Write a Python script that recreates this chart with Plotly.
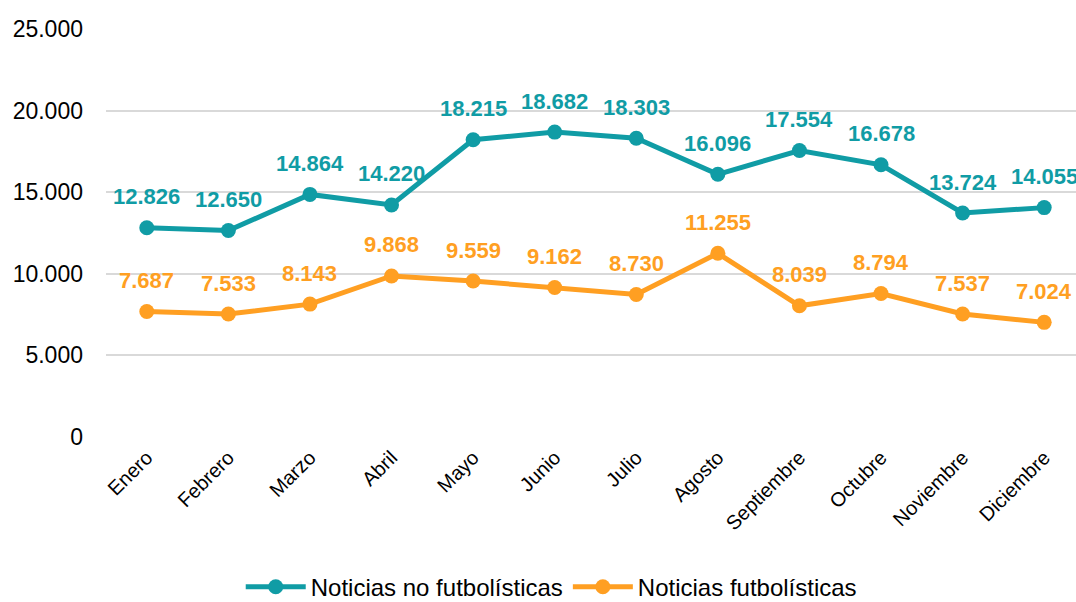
import plotly.graph_objects as go

months = ["Enero", "Febrero", "Marzo", "Abril", "Mayo", "Junio", "Julio",
          "Agosto", "Septiembre", "Octubre", "Noviembre", "Diciembre"]
no_futbol = [12826, 12650, 14864, 14220, 18215, 18682, 18303, 16096, 17554, 16678, 13724, 14055]
futbol = [7687, 7533, 8143, 9868, 9559, 9162, 8730, 11255, 8039, 8794, 7537, 7024]
y_ticks = [0, 5000, 10000, 15000, 20000, 25000]
y_tick_labels = ["0", "5.000", "10.000", "15.000", "20.000", "25.000"]

TEAL = "#109CA5"
ORANGE = "#FF9F22"
FONT = "Liberation Sans, Arial, sans-serif"

def fmt(v):
    return f"{v:,}".replace(",", ".")

fig = go.Figure()
x_idx = list(range(len(months)))
fig.add_trace(go.Scatter(x=x_idx, y=no_futbol, mode="lines+markers",
                         name="Noticias no futbolísticas",
                         line=dict(color=TEAL, width=5),
                         marker=dict(color=TEAL, size=15), cliponaxis=False))
fig.add_trace(go.Scatter(x=x_idx, y=futbol, mode="lines+markers",
                         name="Noticias futbolísticas",
                         line=dict(color=ORANGE, width=5),
                         marker=dict(color=ORANGE, size=15), cliponaxis=False))

annotations = []
for series, color in ((no_futbol, TEAL), (futbol, ORANGE)):
    for i, v in enumerate(series):
        annotations.append(dict(x=i, y=v, text=fmt(v), showarrow=False, yshift=31,
                                font=dict(family=FONT, size=22, color=color, weight="bold")))

fig.update_layout(
    width=1076, height=602,
    margin=dict(l=106, r=0, t=29, b=165, autoexpand=False),
    paper_bgcolor="white", plot_bgcolor="white",
    font=dict(family=FONT, color="#000000"),
    showlegend=True,
    legend=dict(orientation="h", x=0.459, xanchor="center", y=-0.368, yanchor="middle",
                font=dict(family=FONT, size=24, color="#000000"),
                itemwidth=60, tracegroupgap=0),
    annotations=annotations,
    xaxis=dict(tickmode="array", tickvals=x_idx, ticktext=months,
               range=[-0.5, 11.39], showgrid=False, zeroline=False,
               showline=False, ticks="", tickangle=-45, automargin=False,
               ticklabelstandoff=4,
               tickfont=dict(family=FONT, size=20, color="#000000")),
    yaxis=dict(range=[0, 25000], tickmode="array", tickvals=y_ticks,
               ticktext=y_tick_labels, showgrid=True, gridcolor="#D9D9D9",
               gridwidth=1.5, zeroline=False, showline=False, ticks="",
               ticklabelstandoff=22, automargin=False,
               tickfont=dict(family=FONT, size=23, color="#000000")),
)

fig.write_html("out.html", config={"displayModeBar": False},
               post_script="document.body.style.margin='0';")
